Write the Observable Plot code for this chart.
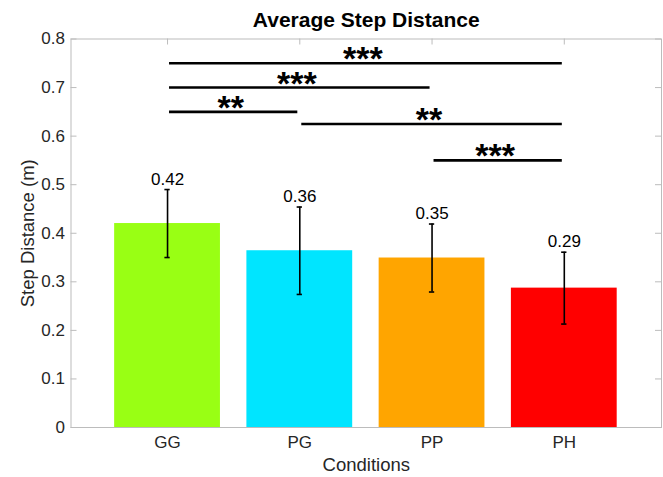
<!DOCTYPE html>
<html>
<head>
<meta charset="utf-8">
<script src="https://cdn.jsdelivr.net/npm/d3@7"></script>
<script src="https://cdn.jsdelivr.net/npm/@observablehq/plot@0.6"></script>
<style>
  html, body { margin: 0; padding: 0; background: #fff; }
  #chart svg { display: block; }
</style>
</head>
<body>
<div id="chart"></div>
<script>
// ---- data ----
const categories = ["GG", "PG", "PP", "PH"];
const means = [0.42, 0.364, 0.349, 0.287];
const errors = [0.07, 0.09, 0.07, 0.074];
const valueLabels = ["0.42", "0.36", "0.35", "0.29"];
const barColors = ["#99ff14", "#00e5ff", "#ffa500", "#ff0000"];

const sigFrom = ["GG", "GG", "GG", "PG", "PP"];
const sigTo = ["PH", "PP", "PG", "PH", "PH"];
const sigY = [0.75, 0.70, 0.65, 0.625, 0.55];
const sigStars = ["***", "***", "**", "**", "***"];

const yTicks = [0, 0.1, 0.2, 0.3, 0.4, 0.5, 0.6, 0.7, 0.8];
const yTickLabels = ["0", "0.1", "0.2", "0.3", "0.4", "0.5", "0.6", "0.7", "0.8"];

// ---- layout ----
const W = 663, H = 477;
const mL = 70.5, mR = 2, mT = 38.5, mB = 50;
const xDom = [0.27, 4.735];
const yDom = [0, 0.8];
const pw = W - mL - mR, ph = H - mT - mB;
const pxX = (xDom[1] - xDom[0]) / pw;
const pxY = (yDom[1] - yDom[0]) / ph;

const pos = c => categories.indexOf(c) + 1;
const bars = categories.map((c, i) => ({
  cat: c, x: i + 1, mean: means[i], err: errors[i], label: valueLabels[i], color: barColors[i]
}));
const sigs = sigFrom.map((f, i) => ({
  x1: pos(f) + 0.015, x2: pos(sigTo[i]) - 0.015, y: sigY[i], stars: sigStars[i]
}));
const xTickPos = categories.map((c, i) => i + 1);

const axisGray = "#bcbcbc";
const textCol = "#262626";
const font = "'Liberation Sans', Arial, Helvetica, sans-serif";
const tickLen = 6;

const chart = Plot.plot({
  width: W, height: H,
  marginLeft: mL, marginRight: mR, marginTop: mT, marginBottom: mB,
  style: { fontFamily: font, background: "#fff" },
  x: { domain: xDom, axis: null },
  y: { domain: yDom, axis: null },
  marks: [
    // inward ticks
    Plot.ruleY(yTicks, { y: d => d, x1: xDom[0], x2: xDom[0] + tickLen * pxX, stroke: axisGray }),
    Plot.ruleY(yTicks, { y: d => d, x1: xDom[1] - tickLen * pxX, x2: xDom[1], stroke: axisGray }),
    Plot.ruleX(xTickPos, { x: d => d, y1: yDom[1], y2: yDom[1] - tickLen * pxY, stroke: axisGray }),
    Plot.ruleX(xTickPos, { x: d => d, y1: yDom[0], y2: yDom[0] + tickLen * pxY, stroke: axisGray }),
    // bars
    Plot.rectY(bars, { x1: d => d.x - 0.4, x2: d => d.x + 0.4, y1: 0, y2: "mean", fill: "color" }),
    Plot.frame({ stroke: axisGray }),
    // error bars
    Plot.ruleX(bars, { x: "x", y1: d => d.mean - d.err, y2: d => d.mean + d.err, stroke: "#000", strokeWidth: 1.6 }),
    Plot.ruleY(bars, { y: d => d.mean + d.err, x1: d => d.x - 0.02, x2: d => d.x + 0.02, stroke: "#000", strokeWidth: 1.6 }),
    Plot.ruleY(bars, { y: d => d.mean - d.err, x1: d => d.x - 0.02, x2: d => d.x + 0.02, stroke: "#000", strokeWidth: 1.6 }),
    // value labels
    Plot.text(bars, { x: "x", y: d => d.mean + d.err, text: "label", lineAnchor: "bottom", dy: -5, fontSize: 17, fill: "#000" }),
    // significance lines
    Plot.ruleY(sigs, { y: "y", x1: "x1", x2: "x2", stroke: "#000", strokeWidth: 2.6 }),
    Plot.text(sigs, { x: d => (d.x1 + d.x2) / 2, y: "y", text: "stars", lineAnchor: "bottom", dx: -3, dy: 7, fontSize: 34, fontWeight: "bold", fill: "#000" }),
    // y tick labels
    Plot.text(yTicks, { x: xDom[0], y: d => d, text: (d, i) => yTickLabels[i], textAnchor: "end", dx: -6, fontSize: 17, fill: textCol }),
    // x tick labels
    Plot.text(xTickPos, { x: d => d, y: yDom[0], text: (d, i) => categories[i], lineAnchor: "top", dy: 8, fontSize: 17, fill: textCol }),
    // axis labels and title
    Plot.text(["Conditions"], { frameAnchor: "bottom", dy: 30, lineAnchor: "top", fontSize: 18.5, fill: textCol }),
    Plot.text(["Step Distance (m)"], { frameAnchor: "left", dx: -42.5, rotate: -90, textAnchor: "middle", lineAnchor: "middle", fontSize: 18.5, fill: textCol }),
    Plot.text(["Average Step Distance"], { frameAnchor: "top", dy: -19, lineAnchor: "middle", fontSize: 21, fontWeight: "bold", fill: "#000" })
  ]
});
document.getElementById("chart").appendChild(chart);
</script>
</body>
</html>
